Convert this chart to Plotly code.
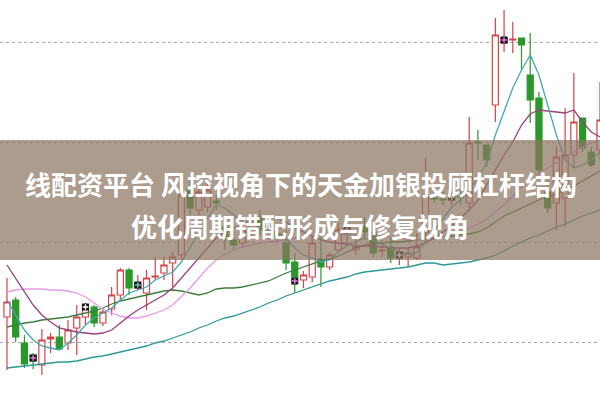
import plotly.graph_objects as go

idx = list(range(69))

opens = [5.25, 5.42, 4.99, 4.87, 4.77, 5.03, 5.05, 4.99, 5.14, 5.25, 5.35, 5.19, 5.33, 5.47, 5.72, 5.54, 5.49, 5.65, 5.69, 5.79,
         5.87, 6.52, 6.32, 6.35, 6.41, 6.15, 6.02, 5.99, 6.10, 6.24, 6.10, 6.09, 5.99, 5.80, 5.62, 5.65, 5.83, 5.75, 5.92, 6.10,
         5.92, 6.15, 6.09, 5.91, 5.95, 5.84, 5.85, 5.84, 6.09, 6.44, 6.43, 6.42, 6.46, 6.39, 7.00, 6.97, 7.37, 7.99, 8.02, 8.04,
         7.67, 7.44, 6.50, 6.39, 6.44, 6.87, 7.24, 6.90, 6.92]
closes = [5.40, 5.05, 4.78, 4.81, 5.02, 5.05, 4.93, 5.12, 5.25, 5.37, 5.19, 5.30, 5.47, 5.72, 5.54, 5.59, 5.64, 5.66, 5.77, 5.85,
          6.47, 6.34, 6.50, 6.52, 6.39, 6.05, 5.97, 6.12, 6.20, 6.12, 6.16, 6.05, 5.79, 5.65, 5.67, 5.99, 5.75, 5.87, 6.12, 6.14,
          5.95, 6.10, 5.89, 5.92, 5.84, 5.89, 5.89, 5.95, 6.47, 6.43, 6.42, 6.47, 6.45, 6.99, 6.99, 6.82, 8.07, 8.04, 8.03, 7.97,
          7.42, 6.72, 6.34, 6.85, 6.87, 7.20, 6.94, 6.77, 7.22]
highs = [5.64, 5.45, 5.07, 4.89, 5.13, 5.09, 5.17, 5.22, 5.37, 5.39, 5.37, 5.34, 5.55, 5.74, 5.74, 5.67, 5.72, 5.85, 5.85, 5.90,
         6.57, 6.62, 6.62, 6.59, 6.47, 6.22, 6.12, 6.20, 6.27, 6.32, 6.22, 6.14, 6.12, 5.89, 5.71, 6.05, 6.09, 5.90, 6.19, 6.17,
         6.02, 6.25, 6.14, 6.02, 6.04, 5.94, 5.94, 6.09, 6.84, 6.50, 6.50, 6.49, 6.52, 7.25, 7.12, 6.97, 8.24, 8.32, 8.20, 8.04,
         8.09, 7.50, 6.62, 6.95, 7.34, 7.69, 7.24, 6.95, 7.60]
lows = [4.72, 5.00, 4.74, 4.73, 4.67, 4.89, 4.92, 4.92, 4.87, 5.17, 5.15, 5.16, 5.27, 5.42, 5.47, 5.52, 5.32, 5.62, 5.62, 5.55,
        5.82, 6.27, 6.27, 6.30, 6.32, 5.92, 5.92, 5.95, 6.04, 6.07, 6.02, 6.00, 5.72, 5.49, 5.54, 5.60, 5.55, 5.72, 5.90, 5.95,
        5.87, 6.02, 5.85, 5.85, 5.79, 5.77, 5.75, 5.82, 5.99, 6.39, 6.37, 6.37, 6.37, 6.34, 6.82, 6.75, 7.20, 7.90, 7.89, 7.72,
        7.19, 6.69, 6.29, 6.12, 6.15, 6.74, 6.90, 6.75, 6.82]

ma5 = [5.42, 5.27, 5.12, 5.02, 4.96, 4.94, 4.92, 4.99, 5.07, 5.17, 5.24, 5.29, 5.34, 5.42, 5.49, 5.52, 5.55, 5.62, 5.66, 5.70,
       5.80, 5.95, 6.10, 6.24, 6.37, 6.34, 6.27, 6.20, 6.14, 6.12, 6.12, 6.10, 6.04, 5.94, 5.87, 5.84, 5.80, 5.82, 5.90, 5.97,
       6.00, 6.04, 6.02, 5.98, 5.94, 5.90, 5.88, 5.89, 6.00, 6.12, 6.24, 6.35, 6.42, 6.52, 6.64, 6.79, 7.07, 7.30, 7.54, 7.72,
       7.87, 7.67, 7.37, 7.07, 6.82, 6.74, 6.77, 6.82, 6.90]
ma10 = [5.77, 5.64, 5.50, 5.37, 5.27, 5.20, 5.14, 5.12, 5.10, 5.09, 5.08, 5.09, 5.12, 5.19, 5.26, 5.32, 5.37, 5.42, 5.47, 5.54,
        5.64, 5.74, 5.84, 5.95, 6.04, 6.10, 6.14, 6.18, 6.22, 6.24, 6.26, 6.24, 6.20, 6.14, 6.10, 6.06, 6.02, 6.00, 5.99, 5.98,
        5.96, 5.96, 5.96, 5.95, 5.94, 5.94, 5.94, 5.96, 5.99, 6.04, 6.10, 6.16, 6.24, 6.32, 6.42, 6.57, 6.72, 6.87, 7.00, 7.17,
        7.28, 7.32, 7.31, 7.30, 7.29, 7.32, 7.20, 7.10, 7.05]
ma20 = [5.50, 5.52, 5.53, 5.53, 5.53, 5.52, 5.52, 5.51, 5.49, 5.45, 5.39, 5.33, 5.29, 5.26, 5.24, 5.24, 5.26, 5.29, 5.32, 5.37,
        5.45, 5.54, 5.64, 5.74, 5.82, 5.88, 5.92, 5.95, 5.97, 5.99, 6.00, 6.01, 6.02, 6.04, 6.05, 6.06, 6.06, 6.07, 6.07, 6.07,
        6.07, 6.07, 6.07, 6.06, 6.05, 6.04, 6.03, 6.02, 6.02, 6.03, 6.05, 6.08, 6.11, 6.14, 6.18, 6.23, 6.30, 6.37, 6.46, 6.55,
        6.62, 6.69, 6.74, 6.79, 6.84, 6.90, 6.95, 6.99, 7.02]
ma30 = [5.15, 5.17, 5.19, 5.20, 5.22, 5.23, 5.24, 5.25, 5.27, 5.29, 5.31, 5.34, 5.38, 5.41, 5.43, 5.45, 5.47, 5.49, 5.51, 5.52,
        5.51, 5.49, 5.47, 5.49, 5.53, 5.54, 5.54, 5.55, 5.57, 5.59, 5.61, 5.65, 5.69, 5.72, 5.75, 5.78, 5.81, 5.83, 5.86, 5.90,
        5.94, 5.97, 5.98, 5.99, 6.00, 6.00, 6.01, 6.02, 6.03, 6.04, 6.05, 6.06, 6.07, 6.08, 6.10, 6.14, 6.20, 6.26, 6.30, 6.34,
        6.38, 6.42, 6.45, 6.48, 6.52, 6.56, 6.61, 6.66, 6.71]
ma60 = [4.74, 4.75, 4.76, 4.77, 4.78, 4.79, 4.80, 4.80, 4.81, 4.83, 4.85, 4.86, 4.88, 4.90, 4.92, 4.94, 4.96, 4.99, 5.01, 5.04,
        5.07, 5.10, 5.14, 5.17, 5.21, 5.24, 5.26, 5.29, 5.32, 5.35, 5.39, 5.42, 5.46, 5.49, 5.52, 5.55, 5.58, 5.61, 5.63, 5.65,
        5.68, 5.70, 5.71, 5.72, 5.73, 5.74, 5.75, 5.77, 5.79, 5.79, 5.77, 5.78, 5.79, 5.80, 5.82, 5.84, 5.87, 5.91, 5.96, 6.00,
        6.04, 6.07, 6.11, 6.15, 6.18, 6.22, 6.26, 6.29, 6.32]

signal_idx = [3, 9, 15, 33, 39, 45, 51, 57]
signal_price = [4.84, 5.35, 5.57, 5.61, 6.12, 5.87, 6.45, 8.02]
signal_inner = ['#e27ee2', '#ffffff', '#5cc8c8', '#e27ee2', '#ffffff', '#ffffff', '#ffffff', '#e27ee2']

grid_levels = [5, 6, 7, 8]
title_line1 = "线配资平台 风控视角下的天金加银投顾杠杆结构"
title_line2 = "优化周期错配形成与修复视角"

fig = go.Figure()

ma_specs = [(ma60, '#2f9898'), (ma30, '#3d7d3d'), (ma20, '#e79ae7'), (ma10, '#9a3f7e'), (ma5, '#45a9b0')]
for vals, col in ma_specs:
    fig.add_trace(go.Scatter(x=idx, y=vals, mode='lines', line=dict(color=col, width=1.3),
                             hoverinfo='skip', showlegend=False))

fig.add_trace(go.Candlestick(
    x=idx, open=opens, high=highs, low=lows, close=closes,
    increasing=dict(line=dict(color='#d2444a', width=1.2), fillcolor='#ffffff'),
    decreasing=dict(line=dict(color='#2a982a', width=1.2), fillcolor='#2a982a'),
    whiskerwidth=0, showlegend=False))

fig.add_trace(go.Scatter(x=signal_idx, y=signal_price, mode='markers',
                         marker=dict(symbol='square', size=7, color='#111111'),
                         hoverinfo='skip', showlegend=False))
fig.add_trace(go.Scatter(x=signal_idx, y=signal_price, mode='markers',
                         marker=dict(symbol='cross-thin', size=4, line=dict(color=signal_inner, width=1.5)),
                         hoverinfo='skip', showlegend=False))

fig.add_shape(type='rect', xref='paper', yref='paper', x0=0, x1=1, y0=0.35, y1=0.65,
              fillcolor='rgba(140,118,98,0.72)', line=dict(width=0), layer='above')

fig.add_annotation(x=0.502, y=0.5425, xref='paper', yref='paper', text='<b>' + title_line1 + '</b>',
                   showarrow=False, yanchor='middle', xanchor='center',
                   font=dict(family='Noto Sans CJK SC', size=26, color='#ffffff'))
fig.add_annotation(x=0.5, y=0.435, xref='paper', yref='paper', text='<b>' + title_line2 + '</b>',
                   showarrow=False, yanchor='middle', xanchor='center',
                   font=dict(family='Noto Sans CJK SC', size=26, color='#ffffff'))

fig.update_layout(
    width=600, height=400, margin=dict(l=0, r=0, t=0, b=0),
    paper_bgcolor='#ffffff', plot_bgcolor='#ffffff',
    boxgap=0.18, boxgroupgap=0.15,
    xaxis=dict(range=[-0.8, 68.0], visible=False, rangeslider=dict(visible=False), fixedrange=True),
    yaxis=dict(range=[4.42, 8.42], tickvals=grid_levels, showticklabels=False, showgrid=True,
               gridcolor='#a8a8a8', griddash='dot', gridwidth=1, zeroline=False, showline=False, fixedrange=True),
    showlegend=False,
)

fig.write_html("out.html", config={'displayModeBar': False},
               post_script="document.body.style.margin='0';document.body.style.overflow='hidden';")
